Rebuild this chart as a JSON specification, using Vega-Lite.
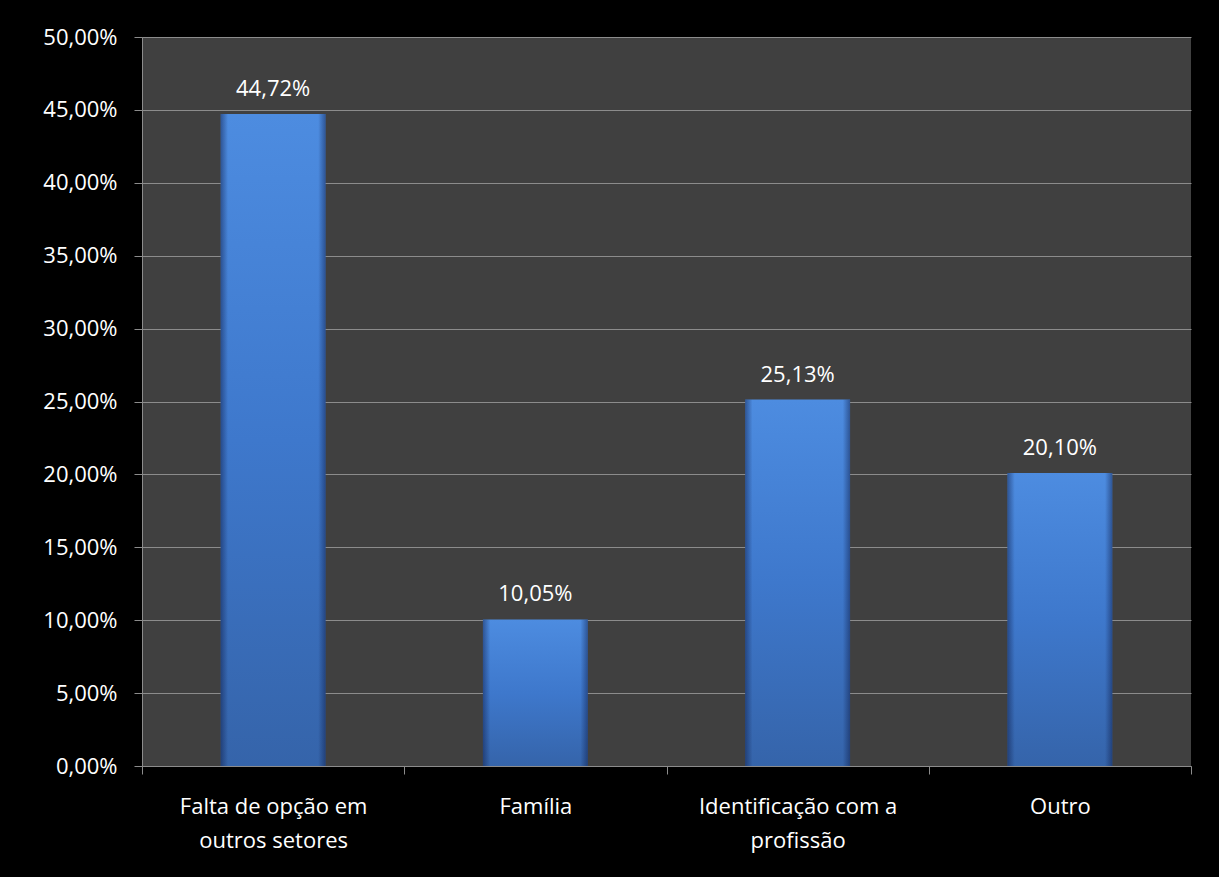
{
  "$schema": "https://vega.github.io/schema/vega-lite/v6.json",
  "autosize": "none",
  "width": 1049,
  "height": 729,
  "padding": {"left": 142, "top": 37, "right": 28, "bottom": 111},
  "background": "#000000",
  "config": {
    "locale": {"number": {"decimal": ",", "thousands": ".", "grouping": [3], "currency": ["", ""]}},
    "view": {"fill": "#404040", "stroke": null},
    "font": "Open Sans"
  },
  "data": {"values": [
    {"categoria": "Falta de opção em outros setores", "valor": 0.4472},
    {"categoria": "Família", "valor": 0.1005},
    {"categoria": "Identificação com a profissão", "valor": 0.2513},
    {"categoria": "Outro", "valor": 0.2010}
  ]},
  "encoding": {
    "x": {
      "field": "categoria", "type": "nominal", "sort": null,
      "scale": {"paddingInner": 0, "paddingOuter": 0},
      "axis": {
        "title": null, "labelAngle": 0, "tickBand": "extent", "grid": false,
        "domainColor": "#8c8c8c", "tickColor": "#8c8c8c", "tickSize": 8,
        "labelColor": "#ffffff", "labelFontSize": 22, "labelPadding": 22,
        "labelLineHeight": 34, "labelBaseline": "top", "labelLimit": 0,
        "labelExpr": "datum.value == 'Falta de opção em outros setores' ? ['Falta de opção em', 'outros setores'] : datum.value == 'Identificação com a profissão' ? ['Identificação com a', 'profissão'] : datum.label"
      }
    },
    "y": {
      "field": "valor", "type": "quantitative",
      "scale": {"domain": [0, 0.5], "nice": false},
      "axis": {
        "title": null, "values": [0, 0.05, 0.1, 0.15, 0.2, 0.25, 0.3, 0.35, 0.4, 0.45, 0.5],
        "format": ".2%", "grid": true, "gridColor": "#8c8c8c", "gridWidth": 1,
        "domainColor": "#8c8c8c", "tickColor": "#8c8c8c", "tickSize": 8,
        "labelColor": "#ffffff", "labelFontSize": 22, "labelPadding": 17
      }
    }
  },
  "layer": [
    {
      "mark": {
        "type": "bar", "width": {"band": 0.4},
        "color": {"gradient": "linear", "x1": 0, "y1": 0, "x2": 0, "y2": 1,
          "stops": [{"offset": 0, "color": "#4d8ce0"}, {"offset": 0.5, "color": "#3e78cc"}, {"offset": 1, "color": "#3564aa"}]}
      }
    },
    {
      "mark": {
        "type": "bar", "width": {"band": 0.4},
        "color": {"gradient": "linear", "x1": 0, "y1": 0, "x2": 1, "y2": 0,
          "stops": [{"offset": 0, "color": "rgba(10,20,60,0.45)"}, {"offset": 0.07, "color": "rgba(10,20,60,0)"}, {"offset": 0.93, "color": "rgba(10,20,60,0)"}, {"offset": 1, "color": "rgba(10,20,60,0.45)"}]}
      }
    },
    {
      "mark": {"type": "text", "baseline": "bottom", "dy": -13, "color": "#ffffff", "fontSize": 22},
      "encoding": {"text": {"field": "valor", "type": "quantitative", "format": ".2%"}}
    }
  ]
}
